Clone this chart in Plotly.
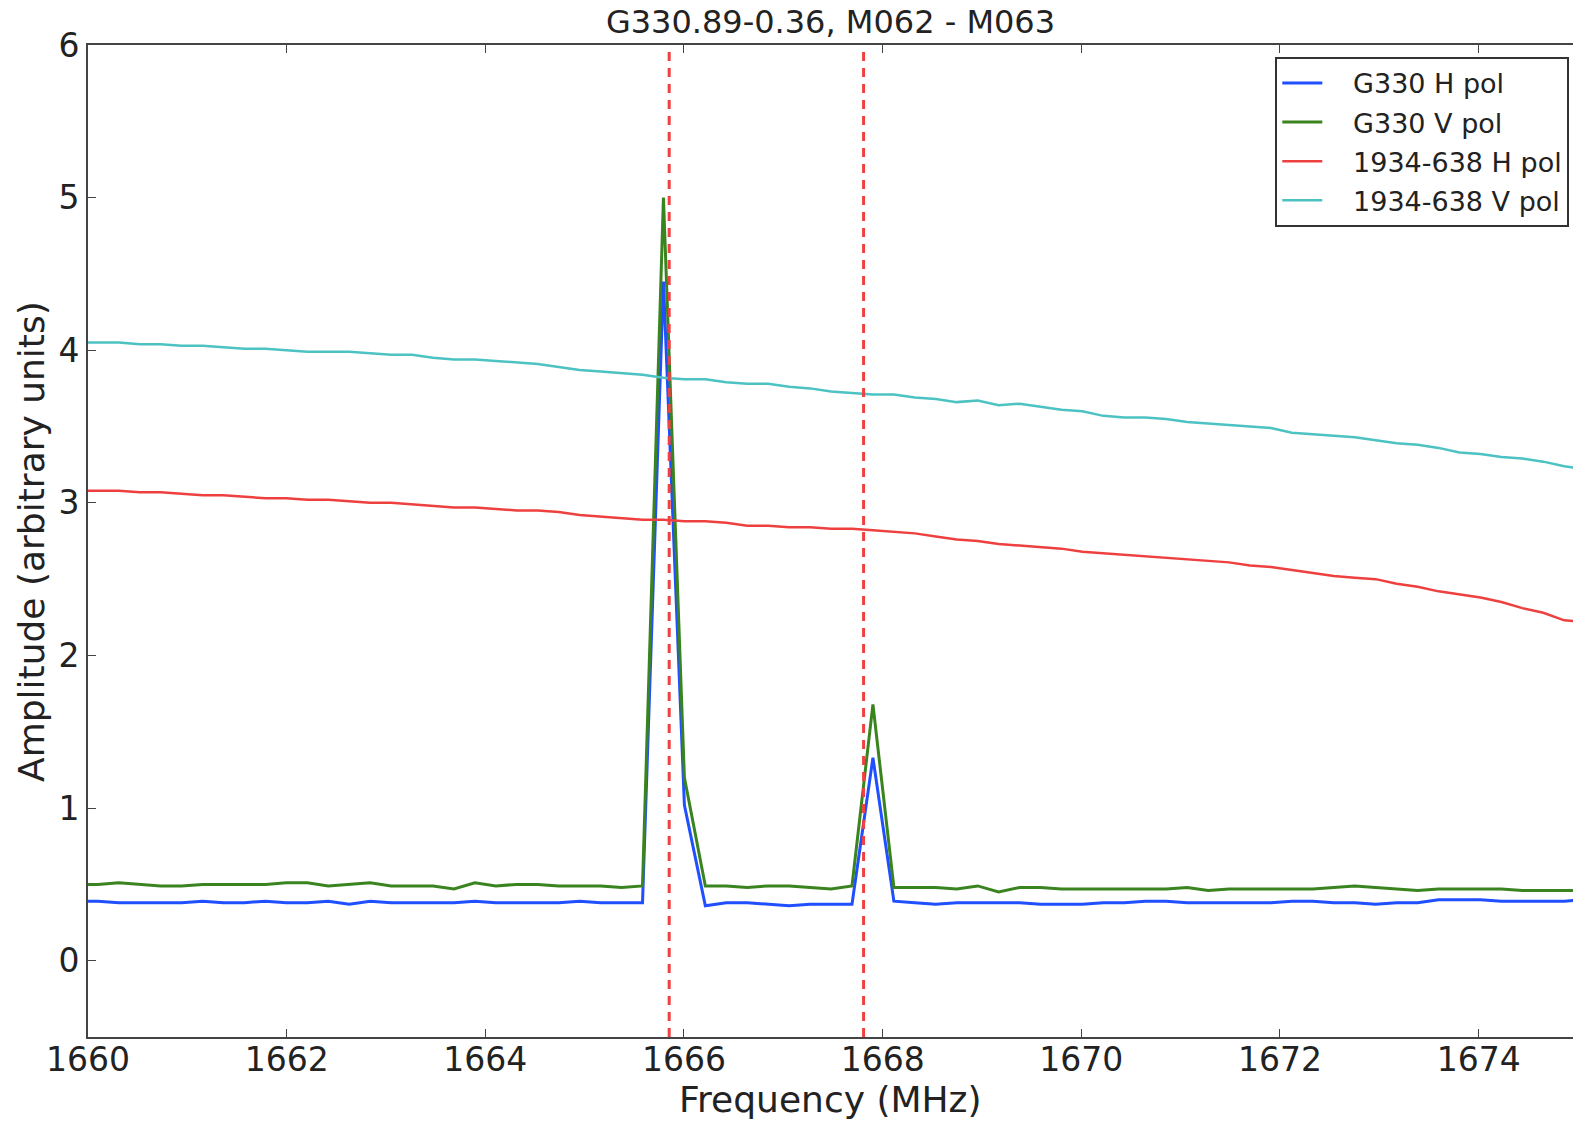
import numpy as np
import plotly.graph_objects as go

# Spectrometer channel grid (MHz)
chan0 = 1659.888
chan_width = 0.2109
n_chan = 73
freq = chan0 + chan_width * np.arange(n_chan)

# Expected line frequencies (MHz), marked by dashed verticals
line_freqs = [1665.851, 1667.808]

g330_h = [0.39, 0.39, 0.38, 0.38, 0.38, 0.38, 0.39, 0.38, 0.38, 0.39,
          0.38, 0.38, 0.39, 0.37, 0.39, 0.38, 0.38, 0.38, 0.38, 0.39,
          0.38, 0.38, 0.38, 0.38, 0.39, 0.38, 0.38, 0.38, 4.45, 1.02,
          0.36, 0.38, 0.38, 0.37, 0.36, 0.37, 0.37, 0.37, 1.33, 0.39,
          0.38, 0.37, 0.38, 0.38, 0.38, 0.38, 0.37, 0.37, 0.37, 0.38,
          0.38, 0.39, 0.39, 0.38, 0.38, 0.38, 0.38, 0.38, 0.39, 0.39,
          0.38, 0.38, 0.37, 0.38, 0.38, 0.40, 0.40, 0.40, 0.39, 0.39,
          0.39, 0.39, 0.40]

g330_v = [0.50, 0.50, 0.51, 0.50, 0.49, 0.49, 0.50, 0.50, 0.50, 0.50,
          0.51, 0.51, 0.49, 0.50, 0.51, 0.49, 0.49, 0.49, 0.47, 0.51,
          0.49, 0.50, 0.50, 0.49, 0.49, 0.49, 0.48, 0.49, 5.00, 1.20,
          0.49, 0.49, 0.48, 0.49, 0.49, 0.48, 0.47, 0.49, 1.68, 0.48,
          0.48, 0.48, 0.47, 0.49, 0.45, 0.48, 0.48, 0.47, 0.47, 0.47,
          0.47, 0.47, 0.47, 0.48, 0.46, 0.47, 0.47, 0.47, 0.47, 0.47,
          0.48, 0.49, 0.48, 0.47, 0.46, 0.47, 0.47, 0.47, 0.47, 0.46,
          0.46, 0.46, 0.46]

cal_h = [3.08, 3.08, 3.08, 3.07, 3.07, 3.06, 3.05, 3.05, 3.04, 3.03,
         3.03, 3.02, 3.02, 3.01, 3.00, 3.00, 2.99, 2.98, 2.97, 2.97,
         2.96, 2.95, 2.95, 2.94, 2.92, 2.91, 2.90, 2.89, 2.89, 2.88,
         2.88, 2.87, 2.85, 2.85, 2.84, 2.84, 2.83, 2.83, 2.82, 2.81,
         2.80, 2.78, 2.76, 2.75, 2.73, 2.72, 2.71, 2.70, 2.68, 2.67,
         2.66, 2.65, 2.64, 2.63, 2.62, 2.61, 2.59, 2.58, 2.56, 2.54,
         2.52, 2.51, 2.50, 2.47, 2.45, 2.42, 2.40, 2.38, 2.35, 2.31,
         2.28, 2.23, 2.22]

cal_v = [4.05, 4.05, 4.05, 4.04, 4.04, 4.03, 4.03, 4.02, 4.01, 4.01,
         4.00, 3.99, 3.99, 3.99, 3.98, 3.97, 3.97, 3.95, 3.94, 3.94,
         3.93, 3.92, 3.91, 3.89, 3.87, 3.86, 3.85, 3.84, 3.82, 3.81,
         3.81, 3.79, 3.78, 3.78, 3.76, 3.75, 3.73, 3.72, 3.71, 3.71,
         3.69, 3.68, 3.66, 3.67, 3.64, 3.65, 3.63, 3.61, 3.60, 3.57,
         3.56, 3.56, 3.55, 3.53, 3.52, 3.51, 3.50, 3.49, 3.46, 3.45,
         3.44, 3.43, 3.41, 3.39, 3.38, 3.36, 3.33, 3.32, 3.30, 3.29,
         3.27, 3.24, 3.22]

series = [
    ("G330 H pol", g330_h, "#1f4fff", 3),
    ("G330 V pol", g330_v, "#3a8420", 3),
    ("1934-638 H pol", cal_h, "#ef4040", 2.5),
    ("1934-638 V pol", cal_v, "#4cc2c2", 2.5),
]

FONT = "DejaVu Sans"
TEXT = "#222222"
SPINE = "#444444"
LEGEND_PAD = "\u00a0" * 3  # gap between legend line sample and its label

fig = go.Figure()
for i, (name, vals, color, width) in enumerate(series):
    fig.add_trace(go.Scatter(
        x=freq, y=vals, mode="lines", name=LEGEND_PAD + name,
        legendgroup=f"g{i}",
        line=dict(color=color, width=width),
    ))

for f in line_freqs:
    fig.add_shape(type="line", xref="x", yref="paper",
                  x0=f, x1=f, y0=0, y1=1, layer="above",
                  line=dict(color="#f04040", width=3, dash="9px,7px"))

# Axis titles
fig.add_annotation(text="Frequency (MHz)", xref="paper", yref="paper",
                   x=0.5, y=-0.0635, xanchor="center", yanchor="middle",
                   showarrow=False,
                   font=dict(family=FONT, size=36, color=TEXT))
fig.add_annotation(text="Amplitude (arbitrary units)", xref="paper", yref="paper",
                   x=-0.0384, y=0.5, xanchor="center", yanchor="middle",
                   textangle=-90, showarrow=False,
                   font=dict(family=FONT, size=36, color=TEXT))

fig.update_layout(
    width=1573, height=1121,
    margin=dict(l=88, r=0, t=45, b=84),
    paper_bgcolor="white", plot_bgcolor="white",
    font=dict(family=FONT, color=TEXT),
    title=dict(text="G330.89-0.36, M062 - M063",
               font=dict(family=FONT, size=32, color=TEXT),
               x=0.5, xref="paper", xanchor="center",
               y=1 - 22 / 1121, yref="container", yanchor="middle"),
    showlegend=True,
    legend=dict(x=0.9975, xanchor="right", y=0.988, yanchor="top",
                bgcolor="white", bordercolor="#333333", borderwidth=2,
                font=dict(family=FONT, size=27, color=TEXT),
                traceorder="grouped", tracegroupgap=1,
                itemwidth=40),
)

fig.update_xaxes(
    range=[1660, 1674.95], tick0=1660, dtick=2,
    showgrid=False, zeroline=False,
    showline=True, linecolor=SPINE, linewidth=2, mirror="ticks",
    ticks="inside", ticklen=8, tickwidth=1, tickcolor=SPINE,
    ticklabelstandoff=-8,
    tickfont=dict(family=FONT, size=33, color=TEXT),
)
fig.update_yaxes(
    range=[-0.5, 6], tick0=0, dtick=1,
    showgrid=False, zeroline=False,
    showline=True, linecolor=SPINE, linewidth=2, mirror=False,
    ticks="inside", ticklen=8, tickwidth=1, tickcolor=SPINE,
    tickfont=dict(family=FONT, size=33, color=TEXT),
)

fig.write_html("out.html")
